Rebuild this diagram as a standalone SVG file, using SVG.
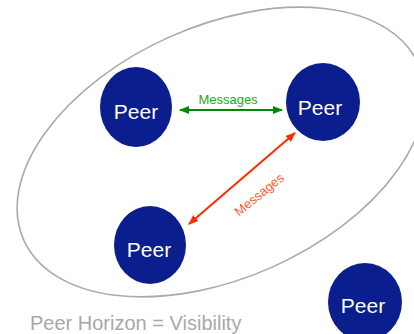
<svg xmlns="http://www.w3.org/2000/svg" width="414" height="334" viewBox="0 0 414 334">
  <style>
    .peer ellipse { fill: #0b1e8e; }
    .peer text { fill: #ffffff; font-family: "Liberation Sans", Arial, sans-serif; font-size: 21px; text-anchor: middle; }
    .lbl { font-family: "Liberation Sans", Arial, sans-serif; font-size: 13px; text-anchor: middle; }
  </style>
  <defs>
    <marker id="headGreen" viewBox="0 0 10 8" refX="9" refY="4" markerWidth="10" markerHeight="8" markerUnits="userSpaceOnUse" orient="auto-start-reverse">
      <path d="M0,0 L10,4 L0,8 Z" fill="#008a00"/>
    </marker>
    <marker id="headRed" viewBox="0 0 10 8" refX="9" refY="4" markerWidth="10" markerHeight="8" markerUnits="userSpaceOnUse" orient="auto-start-reverse">
      <path d="M0,0 L10,4 L0,8 Z" fill="#ff2a00"/>
    </marker>
  </defs>
  <rect width="414" height="334" fill="#ffffff"/>

  <!-- horizon boundary -->
  <g id="horizon">
    <ellipse cx="221" cy="152" rx="216" ry="126" transform="rotate(-24 221 152)" fill="none" stroke="#aaaaaa" stroke-width="1.6"/>
    <text x="30" y="330" font-family="Liberation Sans, Arial, sans-serif" font-size="20" fill="#a8a8a8">Peer Horizon = Visibility</text>
  </g>

  <!-- peers -->
  <g id="peer-a" class="peer">
    <ellipse cx="136" cy="107" rx="36" ry="40"/>
    <text x="136" y="119">Peer</text>
  </g>
  <g id="peer-b" class="peer">
    <ellipse cx="323" cy="102" rx="37" ry="39"/>
    <text x="320" y="115">Peer</text>
  </g>
  <g id="peer-c" class="peer">
    <ellipse cx="150" cy="245" rx="36" ry="39"/>
    <text x="149" y="257">Peer</text>
  </g>
  <g id="peer-d" class="peer">
    <ellipse cx="365" cy="302" rx="37" ry="39"/>
    <text x="363" y="313">Peer</text>
  </g>

  <!-- message links -->
  <g id="connectors">
    <line x1="180" y1="110" x2="282" y2="110" stroke="#008a00" stroke-width="2" marker-start="url(#headGreen)" marker-end="url(#headGreen)"/>
    <text class="lbl" x="228" y="104" fill="#22aa22">Messages</text>
    <line x1="189" y1="224" x2="295" y2="133" stroke="#ff2a00" stroke-width="2" marker-start="url(#headRed)" marker-end="url(#headRed)"/>
    <text class="lbl" x="262" y="198" fill="#ff5a2a" transform="rotate(-39 262 198)">Messages</text>
  </g>
</svg>
